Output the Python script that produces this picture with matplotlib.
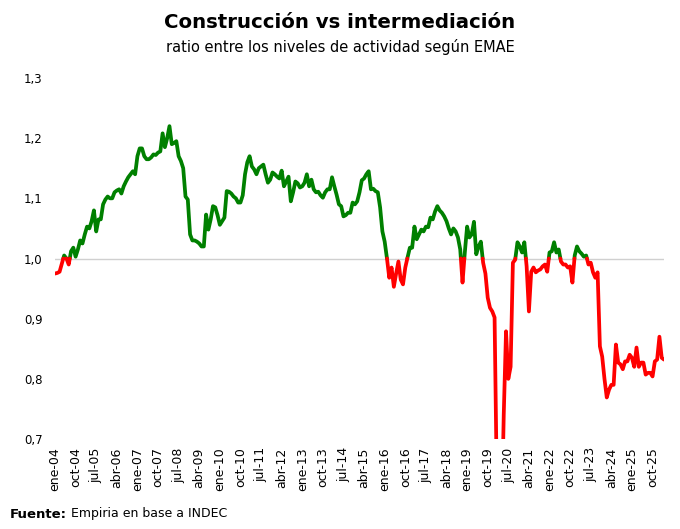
import numpy as np
import matplotlib.pyplot as plt

# ratio construccion / intermediacion (EMAE), mensual desde ene-04
ratio_2004 = [0.975, 0.976, 0.978, 0.992, 1.005, 1.000, 0.990, 1.012, 1.018, 1.003, 1.015, 1.030]
ratio_2005 = [1.025, 1.040, 1.053, 1.050, 1.062, 1.080, 1.045, 1.065, 1.065, 1.090, 1.098, 1.103]
ratio_2006 = [1.100, 1.100, 1.110, 1.113, 1.115, 1.108, 1.120, 1.128, 1.135, 1.140, 1.145, 1.140]
ratio_2007 = [1.170, 1.183, 1.183, 1.170, 1.165, 1.165, 1.168, 1.173, 1.172, 1.176, 1.178, 1.208]
ratio_2008 = [1.185, 1.200, 1.220, 1.190, 1.192, 1.195, 1.170, 1.162, 1.150, 1.103, 1.098, 1.040]
ratio_2009 = [1.030, 1.030, 1.028, 1.025, 1.020, 1.020, 1.073, 1.048, 1.065, 1.087, 1.085, 1.072]
ratio_2010 = [1.056, 1.062, 1.068, 1.112, 1.111, 1.108, 1.103, 1.100, 1.093, 1.093, 1.105, 1.140]
ratio_2011 = [1.160, 1.170, 1.153, 1.148, 1.140, 1.150, 1.153, 1.156, 1.140, 1.126, 1.131, 1.143]
ratio_2012 = [1.140, 1.136, 1.133, 1.146, 1.120, 1.128, 1.136, 1.095, 1.110, 1.128, 1.125, 1.118]
ratio_2013 = [1.120, 1.126, 1.140, 1.120, 1.131, 1.115, 1.110, 1.111, 1.105, 1.101, 1.110, 1.115]
ratio_2014 = [1.115, 1.135, 1.120, 1.106, 1.090, 1.087, 1.070, 1.072, 1.076, 1.076, 1.093, 1.090]
ratio_2015 = [1.095, 1.110, 1.130, 1.133, 1.140, 1.145, 1.115, 1.116, 1.112, 1.110, 1.085, 1.045]
ratio_2016 = [1.028, 1.000, 0.968, 0.985, 0.953, 0.975, 0.995, 0.965, 0.957, 0.985, 1.002, 1.018]
ratio_2017 = [1.018, 1.053, 1.032, 1.040, 1.048, 1.045, 1.053, 1.052, 1.068, 1.065, 1.078, 1.087]
ratio_2018 = [1.080, 1.076, 1.070, 1.062, 1.050, 1.040, 1.050, 1.045, 1.035, 1.015, 0.960, 1.010]
ratio_2019 = [1.053, 1.035, 1.040, 1.061, 1.007, 1.020, 1.028, 0.993, 0.975, 0.935, 0.918, 0.912]
ratio_2020 = [0.902, 0.620, 0.420, 0.550, 0.740, 0.879, 0.800, 0.820, 0.993, 0.998, 1.027, 1.020]
ratio_2021 = [1.010, 1.027, 0.987, 0.912, 0.978, 0.985, 0.977, 0.980, 0.982, 0.987, 0.990, 0.978]
ratio_2022 = [1.010, 1.012, 1.027, 1.010, 1.015, 0.995, 0.990, 0.990, 0.985, 0.987, 0.960, 1.005]
ratio_2023 = [1.020, 1.012, 1.008, 1.003, 1.005, 0.990, 0.993, 0.977, 0.968, 0.977, 0.854, 0.837]
ratio_2024 = [0.800, 0.769, 0.782, 0.790, 0.790, 0.857, 0.827, 0.824, 0.816, 0.829, 0.829, 0.840]
ratio_2025 = [0.835, 0.820, 0.852, 0.820, 0.827, 0.827, 0.807, 0.810, 0.810, 0.804, 0.829, 0.832]
ratio_2026 = [0.870, 0.835, 0.832]

ratio = np.array(ratio_2004 + ratio_2005 + ratio_2006 + ratio_2007 + ratio_2008 + ratio_2009
                 + ratio_2010 + ratio_2011 + ratio_2012 + ratio_2013 + ratio_2014 + ratio_2015
                 + ratio_2016 + ratio_2017 + ratio_2018 + ratio_2019 + ratio_2020 + ratio_2021
                 + ratio_2022 + ratio_2023 + ratio_2024 + ratio_2025 + ratio_2026)

tick_labels = ['ene-04', 'oct-04', 'jul-05', 'abr-06', 'ene-07', 'oct-07', 'jul-08', 'abr-09',
               'ene-10', 'oct-10', 'jul-11', 'abr-12', 'ene-13', 'oct-13', 'jul-14', 'abr-15',
               'ene-16', 'oct-16', 'jul-17', 'abr-18', 'ene-19', 'oct-19', 'jul-20', 'abr-21',
               'ene-22', 'oct-22', 'jul-23', 'abr-24', 'ene-25', 'oct-25']
y_ticks = [0.7, 0.8, 0.9, 1.0, 1.1, 1.2, 1.3]

fig = plt.figure(figsize=(6.8, 5.29), dpi=100)
ax = fig.add_axes([55/680, 90/529, 609/680, 361/529])

x = np.arange(len(ratio))
# cortar cada tramo donde cruza 1 para pintar verde arriba y rojo abajo
xs, ys = [x[0]], [ratio[0]]
for i in range(1, len(ratio)):
    a, b = ratio[i-1], ratio[i]
    if (a - 1) * (b - 1) < 0:
        t = (1 - a) / (b - a)
        xs.append(x[i-1] + t)
        ys.append(1.0)
    xs.append(x[i])
    ys.append(b)
xs = np.array(xs)
ys = np.array(ys)
green = np.ma.masked_where(ys < 1, ys)
red = np.ma.masked_where(ys > 1, ys)

ax.axhline(1, color='#d0d0d0', lw=1, zorder=0)
ax.plot(xs, green, color='#008000', lw=2.7, solid_joinstyle='round', solid_capstyle='round')
ax.plot(xs, red, color='#ff0000', lw=2.7, solid_joinstyle='round', solid_capstyle='round')

ax.set_xlim(0, len(ratio) - 1)
ax.set_ylim(0.7, 1.3)
ax.set_yticks(y_ticks)
ax.set_yticklabels([('%.1f' % v).replace('.', ',') for v in y_ticks], fontsize=8.5)
ax.set_xticks(np.arange(0, 9 * len(tick_labels), 9))
ax.set_xticklabels(tick_labels, rotation=90, fontsize=9)
ax.tick_params(length=0)
ax.tick_params(axis='y', pad=9)
ax.tick_params(axis='x', pad=6)
for s in ax.spines.values():
    s.set_visible(False)

fig.text(0.5, 1 - 22/529, 'Construcción vs intermediación', ha='center', va='center',
         fontsize=14.2, fontweight='bold')
fig.text(0.5, 1 - 47/529, 'ratio entre los niveles de actividad según EMAE', ha='center',
         va='center', fontsize=10.5)

f1 = fig.text(10/680, 1 - 514/529, 'Fuente:', ha='left', va='center', fontsize=9.5, fontweight='bold')
r = fig.canvas.get_renderer()
bb = f1.get_window_extent(renderer=r)
fig.text(bb.x1/680 + 4/680, 1 - 514/529, 'Empiria en base a INDEC', ha='left', va='center', fontsize=9)

fig.savefig('out.png', dpi=100)
